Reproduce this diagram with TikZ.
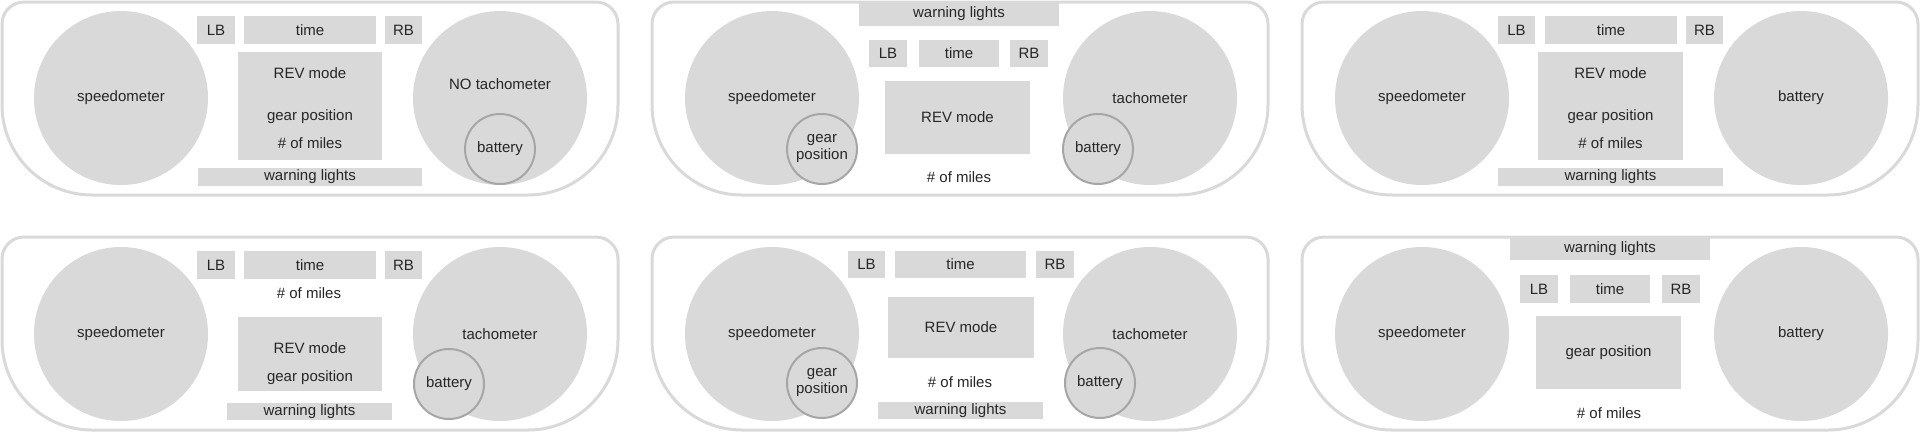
\documentclass[tikz,border=0pt]{standalone}
\usepackage{fontspec}
\setmainfont{Liberation Sans}

\begin{document}
\begin{tikzpicture}[x=1pt,y=-1pt,
  every node/.style={font=\fontsize{15}{17}\selectfont,text=black!85},
  panel/.style={draw=black!15,line width=3pt},
  dial/.style={circle,fill=black!15,minimum size=174pt,inner sep=0pt},
  subdial/.style={circle,fill=black!15,draw=black!35,line width=2pt,minimum size=70pt,inner sep=0pt,align=center},
  box/.style={fill=black!15,inner sep=0pt}]
  \useasboundingbox (0,0) rectangle (1920,432);
  % housings
  \foreach \ox/\oy in {0/0,650/0,1300/0,0/235,650/235,1300/235}
    \draw[panel] (\ox+24,\oy+2) -- (\ox+596,\oy+2) arc[start angle=-90,end angle=0,radius=22] -- (\ox+618,\oy+105) arc[start angle=0,end angle=90,radius=90] -- (\ox+92,\oy+195) arc[start angle=90,end angle=180,radius=90] -- (\ox+2,\oy+24) arc[start angle=180,end angle=270,radius=22] -- cycle;

  % layout A
  \begin{scope}
    \node[dial] (a-speedo) at (121,98) {speedometer};
    \node[dial] (a-tacho) at (500,98) {};
    \node (a-tacho-l) at (500,84) {NO tachometer};
    \node[subdial] (a-batt) at (500,149) {battery};
    \node[box,minimum width=38pt,minimum height=28pt] (a-lb) at (216,30) {LB};
    \node[box,minimum width=132pt,minimum height=28pt] (a-time) at (310,30) {time};
    \node[box,minimum width=37pt,minimum height=28pt] (a-rb) at (403.5,30) {RB};
    \node[box,minimum width=144pt,minimum height=108pt] (a-mid) at (310,106) {};
    \node (a-rev) at (310,73) {REV mode};
    \node (a-gear) at (310,117) {gear position};
    \node (a-miles) at (310,143) {\# of miles};
    \node[box,minimum width=224pt,minimum height=18pt] (a-warn) at (310,177) {warning lights};
  \end{scope}

  % layout B
  \begin{scope}[shift={(650,0)}]
    \node[dial] (b-speedo) at (122,98) {speedometer};
    \node[dial] (b-tacho) at (500,98) {tachometer};
    \node[subdial] (b-gear) at (172,149) {gear\\position};
    \node[subdial] (b-batt) at (448,149) {battery};
    \node[box,minimum width=200pt,minimum height=24pt] (b-warn) at (309,14) {warning lights};
    \node[box,minimum width=38pt,minimum height=27pt] (b-lb) at (238,53.5) {LB};
    \node[box,minimum width=80pt,minimum height=27pt] (b-time) at (309,53.5) {time};
    \node[box,minimum width=38pt,minimum height=27pt] (b-rb) at (379,53.5) {RB};
    \node[box,minimum width=145pt,minimum height=73pt] (b-rev) at (307.5,117.5) {REV mode};
    \node (b-miles) at (309,177) {\# of miles};
  \end{scope}

  % layout C
  \begin{scope}[shift={(1300,0)}]
    \node[dial] (c-speedo) at (122,98) {speedometer};
    \node[dial] (c-batt) at (501,98) {battery};
    \node[box,minimum width=37pt,minimum height=28pt] (c-lb) at (216.5,30) {LB};
    \node[box,minimum width=132pt,minimum height=28pt] (c-time) at (311,30) {time};
    \node[box,minimum width=37pt,minimum height=28pt] (c-rb) at (404.5,30) {RB};
    \node[box,minimum width=145pt,minimum height=108pt] (c-mid) at (310.5,106) {};
    \node (c-rev) at (310.5,73) {REV mode};
    \node (c-gear) at (310.5,117) {gear position};
    \node (c-miles) at (310.5,143) {\# of miles};
    \node[box,minimum width=225pt,minimum height=18pt] (c-warn) at (310.5,177) {warning lights};
  \end{scope}

  % layout D
  \begin{scope}[shift={(0,235)}]
    \node[dial] (d-speedo) at (121,99) {speedometer};
    \node[dial] (d-tacho) at (500,99) {tachometer};
    \node[subdial] (d-batt) at (449,149) {battery};
    \node[box,minimum width=38pt,minimum height=28pt] (d-lb) at (216,30) {LB};
    \node[box,minimum width=132pt,minimum height=28pt] (d-time) at (310,30) {time};
    \node[box,minimum width=37pt,minimum height=28pt] (d-rb) at (403.5,30) {RB};
    \node (d-miles) at (309,58) {\# of miles};
    \node[box,minimum width=144pt,minimum height=74pt] (d-mid) at (310,119) {};
    \node (d-rev) at (310,113) {REV mode};
    \node (d-gear) at (310,143) {gear position};
    \node[box,minimum width=165pt,minimum height=17pt] (d-warn) at (309.5,176.5) {warning lights};
  \end{scope}

  % layout E
  \begin{scope}[shift={(650,235)}]
    \node[dial] (e-speedo) at (122,99) {speedometer};
    \node[dial] (e-tacho) at (500,99) {tachometer};
    \node[subdial] (e-gear) at (172,148) {gear\\position};
    \node[subdial] (e-batt) at (450,148) {battery};
    \node[box,minimum width=37pt,minimum height=27pt] (e-lb) at (216.5,29.5) {LB};
    \node[box,minimum width=131pt,minimum height=27pt] (e-time) at (310.5,29.5) {time};
    \node[box,minimum width=38pt,minimum height=27pt] (e-rb) at (405,29.5) {RB};
    \node[box,minimum width=146pt,minimum height=61pt] (e-rev) at (311,92.5) {REV mode};
    \node (e-miles) at (310,147) {\# of miles};
    \node[box,minimum width=165pt,minimum height=17pt] (e-warn) at (310.5,175.5) {warning lights};
  \end{scope}

  % layout F
  \begin{scope}[shift={(1300,235)}]
    \node[dial] (f-speedo) at (122,99) {speedometer};
    \node[dial] (f-batt) at (501,99) {battery};
    \node[box,minimum width=200pt,minimum height=22pt] (f-warn) at (310,14) {warning lights};
    \node[box,minimum width=38pt,minimum height=28pt] (f-lb) at (239,54) {LB};
    \node[box,minimum width=80pt,minimum height=28pt] (f-time) at (310,54) {time};
    \node[box,minimum width=38pt,minimum height=28pt] (f-rb) at (381,54) {RB};
    \node[box,minimum width=145pt,minimum height=73pt] (f-gear) at (308.5,117.5) {gear position};
    \node (f-miles) at (309,178) {\# of miles};
  \end{scope}
\end{tikzpicture}
\end{document}
